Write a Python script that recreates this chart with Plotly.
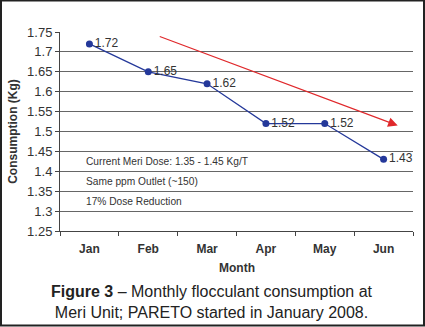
import plotly.graph_objects as go

months = ["Jan", "Feb", "Mar", "Apr", "May", "Jun"]
consumption = [1.72, 1.65, 1.62, 1.52, 1.52, 1.43]
notes = ["Current Meri Dose: 1.35 - 1.45 Kg/T", "Same ppm Outlet (~150)", "17% Dose Reduction"]
note_levels = [1.425, 1.375, 1.325]
y_ticks = [1.25, 1.3, 1.35, 1.4, 1.45, 1.5, 1.55, 1.6, 1.65, 1.7, 1.75]
trend_start = (1.17, 1.74)
trend_end = (5.24, 1.515)

W, H = 425, 327
L, R, T, B = 60, 12, 32, 96
pw, ph = W - L - R, H - T - B

def px_x(p):
    return (p - L) / pw

def px_y(p):
    return 1 - (p - T) / ph

FONT = "Liberation Sans, Arial, sans-serif"
BLUE = "#24389a"
RED = "#e0282b"

fig = go.Figure()
fig.add_trace(go.Scatter(
    x=months, y=consumption, mode="lines+markers+text",
    line=dict(color=BLUE, width=1.3),
    marker=dict(color=BLUE, size=7),
    text=[f"{v:.2f}" for v in consumption],
    textposition="middle right",
    textfont=dict(family=FONT, size=12, color="#333333"),
    cliponaxis=False, showlegend=False,
))

annotations = []
for t, lv in zip(notes, note_levels):
    annotations.append(dict(
        x=px_x(84), xref="paper", y=lv, yref="y", text=t, showarrow=False,
        xanchor="left", yanchor="middle",
        font=dict(family=FONT, size=10.2, color="#333333"),
    ))

# downward trend arrow
annotations.append(dict(
    x=trend_end[0], y=trend_end[1], xref="x", yref="y",
    ax=trend_start[0], ay=trend_start[1], axref="x", ayref="y",
    showarrow=True, arrowhead=2, arrowsize=1.6, arrowwidth=1.2,
    arrowcolor=RED, text="",
))

annotations.append(dict(
    x=0.5, xref="paper", y=px_y(268), yref="paper", text="<b>Month</b>",
    showarrow=False, xanchor="center", yanchor="middle",
    font=dict(family=FONT, size=12, color="#333333"),
))
annotations.append(dict(
    x=px_x(212), xref="paper", y=px_y(301.5), yref="paper",
    text="<b>Figure 3</b> – Monthly flocculant consumption at<br>Meri Unit; PARETO started in January 2008.",
    showarrow=False, xanchor="center", yanchor="middle", align="center",
    font=dict(family=FONT, size=16, color="#222222"),
))

fig.update_layout(
    width=W, height=H,
    margin=dict(l=L, r=R, t=T, b=B),
    paper_bgcolor="white", plot_bgcolor="white",
    annotations=annotations,
    shapes=[dict(
        type="rect", xref="paper", yref="paper",
        x0=px_x(1), x1=px_x(424), y0=px_y(325.5), y1=px_y(0.5),
        line=dict(color="#222222", width=2), fillcolor="rgba(0,0,0,0)",
        layer="below",
    )],
)
fig.update_xaxes(
    type="category", range=[-0.5, 5.5],
    showline=True, linecolor="#444444", linewidth=1,
    ticks="outside", tickson="boundaries", ticklen=4, tickcolor="#444444",
    showgrid=False,
    tickfont=dict(family=FONT, size=12, color="#333333"),
    ticklabelstandoff=7,
    tickprefix="<b>", ticksuffix="</b>",
)
fig.update_yaxes(
    range=[1.25, 1.75], tickvals=y_ticks,
    ticktext=[f"{v:g}" for v in y_ticks],
    showline=True, linecolor="#444444", linewidth=1,
    ticks="outside", ticklen=4, tickcolor="#444444",
    showgrid=True, gridcolor="#666666", gridwidth=1,
    zeroline=False,
    tickfont=dict(family=FONT, size=13, color="#333333"),
    title=dict(text="<b>Consumption (Kg)</b>", standoff=6,
               font=dict(family=FONT, size=12, color="#333333")),
)

fig.write_html("out.html")
